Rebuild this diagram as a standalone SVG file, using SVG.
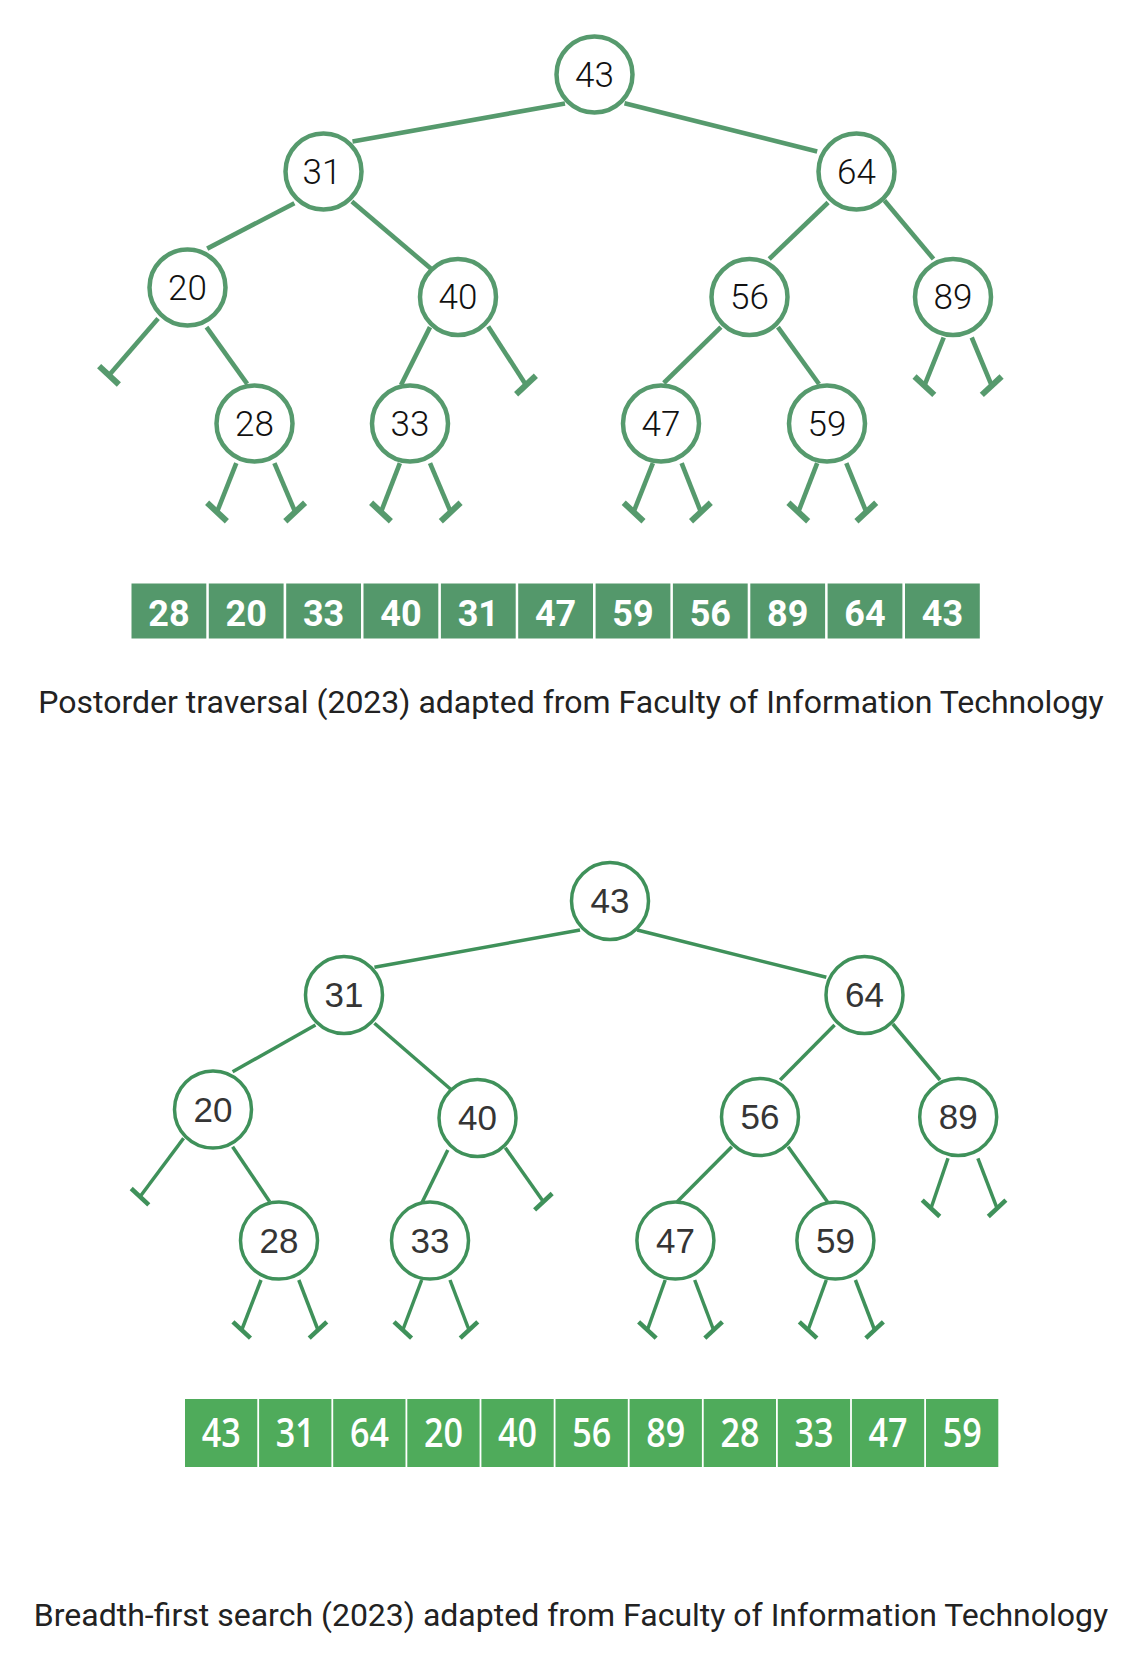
<svg xmlns="http://www.w3.org/2000/svg" width="1140" height="1658" viewBox="0 0 1140 1658">
<style>
  .bg { fill: #ffffff; }
  .n1 circle { fill: #ffffff; stroke: #569a6d; stroke-width: 4.5; }
  .n1 text { font-family: Roboto, "Liberation Sans", sans-serif; font-weight: 300; font-size: 35px; fill: #111111; text-anchor: middle; }
  .n2 circle { fill: #ffffff; stroke: #3f915a; stroke-width: 3.5; }
  .n2 text { font-family: "Liberation Sans", Arial, sans-serif; font-size: 35px; fill: #353535; text-anchor: middle; }
  .e1 { stroke: #569a6d; stroke-width: 4.6; fill: none; }
  .e2 { stroke: #3f915a; stroke-width: 3.5; fill: none; }
  .c1 rect { fill: #54986b; }
  .c1 text { font-family: Roboto, "Liberation Sans", sans-serif; font-weight: 700; font-size: 36px; fill: #ffffff; text-anchor: middle; }
  .c2 rect { fill: #4fab5b; }
  .c2 text { font-family: "Open Sans", "Liberation Sans", sans-serif; font-weight: 600; font-size: 39px; fill: #ffffff; text-anchor: middle; }
  .cap { font-family: Roboto, "Liberation Sans", sans-serif; font-size: 32px; fill: #222222; text-anchor: middle; }
</style>
<defs>
  <marker id="tl1" markerUnits="userSpaceOnUse" viewBox="-16 -16 32 32" markerWidth="32" markerHeight="32" refX="0" refY="0" orient="43">
    <path d="M -13.5 0 L 13.5 0" stroke="#569a6d" stroke-width="6"/>
  </marker>
  <marker id="tr1" markerUnits="userSpaceOnUse" viewBox="-16 -16 32 32" markerWidth="32" markerHeight="32" refX="0" refY="0" orient="-43">
    <path d="M -13.5 0 L 13.5 0" stroke="#569a6d" stroke-width="6"/>
  </marker>
  <marker id="tl2" markerUnits="userSpaceOnUse" viewBox="-16 -16 32 32" markerWidth="32" markerHeight="32" refX="0" refY="0" orient="43">
    <path d="M -12 0 L 12 0" stroke="#3f915a" stroke-width="4.5"/>
  </marker>
  <marker id="tr2" markerUnits="userSpaceOnUse" viewBox="-16 -16 32 32" markerWidth="32" markerHeight="32" refX="0" refY="0" orient="-43">
    <path d="M -12 0 L 12 0" stroke="#3f915a" stroke-width="4.5"/>
  </marker>
</defs>
<rect class="bg" x="0" y="0" width="1140" height="1658"/>

<!-- ===== Postorder tree: connectors ===== -->
<g id="post-connectors" class="e1">
  <line x1="565" y1="103.5" x2="352.5" y2="141.5"/>
  <line x1="624.5" y1="103.3" x2="817.2" y2="151.5"/>
  <line x1="294.4" y1="203.2" x2="207.2" y2="248.6"/>
  <line x1="351.9" y1="201.4" x2="430.8" y2="268.6"/>
  <line x1="158.1" y1="318.5" x2="109" y2="375.3" marker-end="url(#tl1)"/>
  <line x1="206.5" y1="327.1" x2="247.2" y2="383.9"/>
  <line x1="430" y1="327.1" x2="401" y2="385"/>
  <line x1="488.2" y1="326.4" x2="526" y2="385" marker-end="url(#tr1)"/>
  <line x1="828.1" y1="202.5" x2="769.2" y2="259"/>
  <line x1="884.4" y1="200.4" x2="933.5" y2="259"/>
  <line x1="720.9" y1="327.1" x2="663.8" y2="383"/>
  <line x1="777.9" y1="327.1" x2="819" y2="384"/>
  <line x1="943.7" y1="337.5" x2="924.4" y2="385.7" marker-end="url(#tl1)"/>
  <line x1="971.7" y1="337.5" x2="991.7" y2="385.7" marker-end="url(#tr1)"/>
  <line x1="236.3" y1="463.2" x2="217" y2="512" marker-end="url(#tl1)"/>
  <line x1="274.4" y1="463.2" x2="295.2" y2="512" marker-end="url(#tr1)"/>
  <line x1="399.9" y1="463.2" x2="381" y2="512" marker-end="url(#tl1)"/>
  <line x1="430" y1="463.2" x2="450.7" y2="512" marker-end="url(#tr1)"/>
  <line x1="652.9" y1="463.2" x2="633.6" y2="512" marker-end="url(#tl1)"/>
  <line x1="681.6" y1="463.2" x2="700.9" y2="512" marker-end="url(#tr1)"/>
  <line x1="817.2" y1="463.2" x2="798.3" y2="512" marker-end="url(#tl1)"/>
  <line x1="846.3" y1="463.2" x2="866.3" y2="512" marker-end="url(#tr1)"/>
</g>

<!-- ===== Postorder tree: nodes ===== -->
<g id="post-43" class="n1"><circle cx="594.5" cy="74.5" r="38"/><text x="594.5" y="86.5">43</text></g>
<g id="post-31" class="n1"><circle cx="323.5" cy="171.5" r="38"/><text x="322" y="183.5">31</text></g>
<g id="post-64" class="n1"><circle cx="856.5" cy="171.5" r="38"/><text x="856.5" y="183.5">64</text></g>
<g id="post-20" class="n1"><circle cx="187.5" cy="287.5" r="38"/><text x="187.5" y="299.5">20</text></g>
<g id="post-40" class="n1"><circle cx="458" cy="297" r="38"/><text x="458" y="309">40</text></g>
<g id="post-56" class="n1"><circle cx="749.5" cy="297" r="38"/><text x="749.5" y="309">56</text></g>
<g id="post-89" class="n1"><circle cx="953" cy="297" r="38"/><text x="953" y="309">89</text></g>
<g id="post-28" class="n1"><circle cx="254.5" cy="423.5" r="38"/><text x="254.5" y="435.5">28</text></g>
<g id="post-33" class="n1"><circle cx="410" cy="423.5" r="38"/><text x="410" y="435.5">33</text></g>
<g id="post-47" class="n1"><circle cx="661" cy="423.5" r="38"/><text x="661" y="435.5">47</text></g>
<g id="post-59" class="n1"><circle cx="827" cy="423.5" r="38"/><text x="827" y="435.5">59</text></g>

<!-- ===== Postorder result array ===== -->
<g id="post-array" class="c1">
  <g id="post-cell-1"><rect x="131.5" y="583.5" width="74.8" height="55"/><text x="168.9" y="625.5">28</text></g>
  <g id="post-cell-2"><rect x="208.8" y="583.5" width="74.8" height="55"/><text x="246.2" y="625.5">20</text></g>
  <g id="post-cell-3"><rect x="286.2" y="583.5" width="74.8" height="55"/><text x="323.6" y="625.5">33</text></g>
  <g id="post-cell-4"><rect x="363.5" y="583.5" width="74.8" height="55"/><text x="400.9" y="625.5">40</text></g>
  <g id="post-cell-5"><rect x="440.9" y="583.5" width="74.8" height="55"/><text x="478.3" y="625.5">31</text></g>
  <g id="post-cell-6"><rect x="518.2" y="583.5" width="74.8" height="55"/><text x="555.6" y="625.5">47</text></g>
  <g id="post-cell-7"><rect x="595.6" y="583.5" width="74.8" height="55"/><text x="633" y="625.5">59</text></g>
  <g id="post-cell-8"><rect x="672.9" y="583.5" width="74.8" height="55"/><text x="710.3" y="625.5">56</text></g>
  <g id="post-cell-9"><rect x="750.3" y="583.5" width="74.8" height="55"/><text x="787.7" y="625.5">89</text></g>
  <g id="post-cell-10"><rect x="827.6" y="583.5" width="74.8" height="55"/><text x="865" y="625.5">64</text></g>
  <g id="post-cell-11"><rect x="905" y="583.5" width="74.8" height="55"/><text x="942.4" y="625.5">43</text></g>
</g>

<text id="post-caption" class="cap" x="571" y="712.5">Postorder traversal (2023) adapted from Faculty of Information Technology</text>

<!-- ===== BFS tree: connectors ===== -->
<g id="bfs-connectors" class="e2">
  <line x1="580" y1="930" x2="374.4" y2="967.3"/>
  <line x1="637.2" y1="930" x2="826.3" y2="977.3"/>
  <line x1="315.5" y1="1025" x2="232.6" y2="1071.7"/>
  <line x1="374.4" y1="1023.3" x2="450.7" y2="1089.3"/>
  <line x1="183.6" y1="1138.3" x2="140" y2="1196.7" marker-end="url(#tl2)"/>
  <line x1="232.6" y1="1146.7" x2="269.7" y2="1201.7"/>
  <line x1="447.8" y1="1150" x2="421.7" y2="1203.3"/>
  <line x1="505.3" y1="1147.7" x2="543.4" y2="1201.7" marker-end="url(#tr2)"/>
  <line x1="834.6" y1="1025" x2="780.1" y2="1080"/>
  <line x1="892.8" y1="1024" x2="940" y2="1080"/>
  <line x1="731.8" y1="1146.7" x2="677.2" y2="1201.7"/>
  <line x1="788.1" y1="1146.7" x2="827.4" y2="1201.7"/>
  <line x1="948" y1="1158.3" x2="931" y2="1208.3" marker-end="url(#tl2)"/>
  <line x1="977.9" y1="1158.3" x2="997.1" y2="1208.3" marker-end="url(#tr2)"/>
  <line x1="261" y1="1280" x2="241.7" y2="1330" marker-end="url(#tl2)"/>
  <line x1="298.8" y1="1280" x2="318" y2="1330" marker-end="url(#tr2)"/>
  <line x1="421.7" y1="1280" x2="402.8" y2="1330" marker-end="url(#tl2)"/>
  <line x1="450" y1="1280" x2="469" y2="1330" marker-end="url(#tr2)"/>
  <line x1="665.2" y1="1280" x2="647.4" y2="1330" marker-end="url(#tl2)"/>
  <line x1="694.7" y1="1280" x2="713.6" y2="1330" marker-end="url(#tr2)"/>
  <line x1="826.3" y1="1280" x2="808.1" y2="1330" marker-end="url(#tl2)"/>
  <line x1="855.4" y1="1280" x2="874.6" y2="1330" marker-end="url(#tr2)"/>
</g>

<!-- ===== BFS tree: nodes ===== -->
<g id="bfs-43" class="n2"><circle cx="610" cy="901" r="38.5"/><text x="610" y="913">43</text></g>
<g id="bfs-31" class="n2"><circle cx="344" cy="995" r="38.5"/><text x="344" y="1007">31</text></g>
<g id="bfs-64" class="n2"><circle cx="864.5" cy="995" r="38.5"/><text x="864.5" y="1007">64</text></g>
<g id="bfs-20" class="n2"><circle cx="213" cy="1109.5" r="38.5"/><text x="213" y="1121.5">20</text></g>
<g id="bfs-40" class="n2"><circle cx="477.5" cy="1118" r="38.5"/><text x="477.5" y="1130">40</text></g>
<g id="bfs-56" class="n2"><circle cx="760" cy="1117" r="38.5"/><text x="760" y="1129">56</text></g>
<g id="bfs-89" class="n2"><circle cx="958.2" cy="1117" r="38.5"/><text x="958.2" y="1129">89</text></g>
<g id="bfs-28" class="n2"><circle cx="279" cy="1240.6" r="38.5"/><text x="279" y="1252.6">28</text></g>
<g id="bfs-33" class="n2"><circle cx="430" cy="1240.6" r="38.5"/><text x="430" y="1252.6">33</text></g>
<g id="bfs-47" class="n2"><circle cx="675.4" cy="1240.6" r="38.5"/><text x="675.4" y="1252.6">47</text></g>
<g id="bfs-59" class="n2"><circle cx="835.4" cy="1240.6" r="38.5"/><text x="835.4" y="1252.6">59</text></g>

<!-- ===== BFS result array ===== -->
<g id="bfs-array" class="c2">
  <g id="bfs-cell-1"><rect x="185" y="1399" width="72.3" height="68"/><text x="221.2" y="1447" textLength="39" lengthAdjust="spacingAndGlyphs">43</text></g>
  <g id="bfs-cell-2"><rect x="259.1" y="1399" width="72.3" height="68"/><text x="295.3" y="1447" textLength="39" lengthAdjust="spacingAndGlyphs">31</text></g>
  <g id="bfs-cell-3"><rect x="333.2" y="1399" width="72.3" height="68"/><text x="369.4" y="1447" textLength="39" lengthAdjust="spacingAndGlyphs">64</text></g>
  <g id="bfs-cell-4"><rect x="407.3" y="1399" width="72.3" height="68"/><text x="443.5" y="1447" textLength="39" lengthAdjust="spacingAndGlyphs">20</text></g>
  <g id="bfs-cell-5"><rect x="481.4" y="1399" width="72.3" height="68"/><text x="517.6" y="1447" textLength="39" lengthAdjust="spacingAndGlyphs">40</text></g>
  <g id="bfs-cell-6"><rect x="555.5" y="1399" width="72.3" height="68"/><text x="591.7" y="1447" textLength="39" lengthAdjust="spacingAndGlyphs">56</text></g>
  <g id="bfs-cell-7"><rect x="629.6" y="1399" width="72.3" height="68"/><text x="665.8" y="1447" textLength="39" lengthAdjust="spacingAndGlyphs">89</text></g>
  <g id="bfs-cell-8"><rect x="703.7" y="1399" width="72.3" height="68"/><text x="739.9" y="1447" textLength="39" lengthAdjust="spacingAndGlyphs">28</text></g>
  <g id="bfs-cell-9"><rect x="777.8" y="1399" width="72.3" height="68"/><text x="814" y="1447" textLength="39" lengthAdjust="spacingAndGlyphs">33</text></g>
  <g id="bfs-cell-10"><rect x="851.9" y="1399" width="72.3" height="68"/><text x="888.1" y="1447" textLength="39" lengthAdjust="spacingAndGlyphs">47</text></g>
  <g id="bfs-cell-11"><rect x="926" y="1399" width="72.3" height="68"/><text x="962.2" y="1447" textLength="39" lengthAdjust="spacingAndGlyphs">59</text></g>
</g>

<text id="bfs-caption" class="cap" x="571" y="1626">Breadth-first search (2023) adapted from Faculty of Information Technology</text>
</svg>
